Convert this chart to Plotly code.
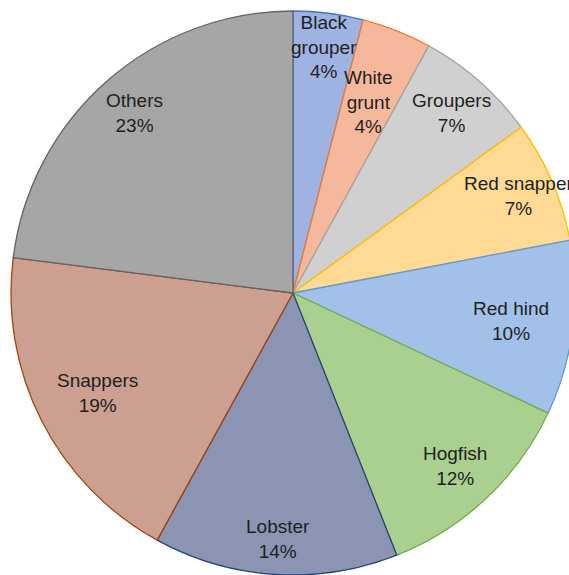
import math
import plotly.graph_objects as go

# Catch composition by species group (percent of total)
species = ["Black grouper", "White grunt", "Groupers", "Red snapper", "Red hind",
           "Hogfish", "Lobster", "Snappers", "Others"]
shares = [4, 4, 7, 7, 10, 12, 14, 19, 23]

fill_colors = ["#9fb3e3", "#f6b89c", "#d0d0d0", "#ffda94", "#a3c1e8",
               "#a9d08e", "#8b95b3", "#cc9f91", "#a6a6a6"]
edge_colors = ["#4472c4", "#ed7d31", "#a5a5a5", "#ffc000", "#5b9bd5",
               "#70ad47", "#264478", "#9e480e", "#636363"]
# radial placement of each label, as a fraction of the pie radius
label_radius = [0.88, 0.73, 0.85, 0.87, 0.78, 0.84, 0.875, 0.78, 0.85]

W, H = 575, 575
ML, MT = 11, 11
plot_w, plot_h = W - ML, H - MT
R = min(plot_w, plot_h) / 2
cx, cy = ML + plot_w / 2, MT + plot_h / 2

fig = go.Figure(go.Pie(
    labels=species,
    values=shares,
    sort=False,
    direction="clockwise",
    rotation=0,
    textinfo="none",
    hoverinfo="label+percent",
    marker=dict(colors=fill_colors, line=dict(color=edge_colors, width=1.3)),
    showlegend=False,
))

total = sum(shares)
cum = 0
annotations = []
for name, v, f in zip(species, shares, label_radius):
    mid = (cum + v / 2) / total * 2 * math.pi
    cum += v
    px = cx + f * R * math.sin(mid)
    py = cy - f * R * math.cos(mid)
    label = name.replace(" ", "<br>") if v / total < 0.05 else name
    pct = round(100 * v / total)
    annotations.append(dict(
        x=(px - ML) / plot_w, y=1 - (py - MT) / plot_h,
        xref="paper", yref="paper",
        text=f"{label}<br>{pct}%",
        showarrow=False, xanchor="center", yanchor="middle",
        font=dict(family="Liberation Sans, Arial, sans-serif", size=19, color="#1f1f1f"),
    ))

fig.update_layout(
    width=W, height=H,
    margin=dict(l=ML, t=MT, r=0, b=0, pad=0),
    paper_bgcolor="white",
    plot_bgcolor="white",
    annotations=annotations,
)

fig.write_html(
    "out.html",
    post_script=(
        "document.documentElement.style.overflow='hidden';"
        "document.body.style.overflow='hidden';"
        "document.body.style.margin='0';"
    ),
)
